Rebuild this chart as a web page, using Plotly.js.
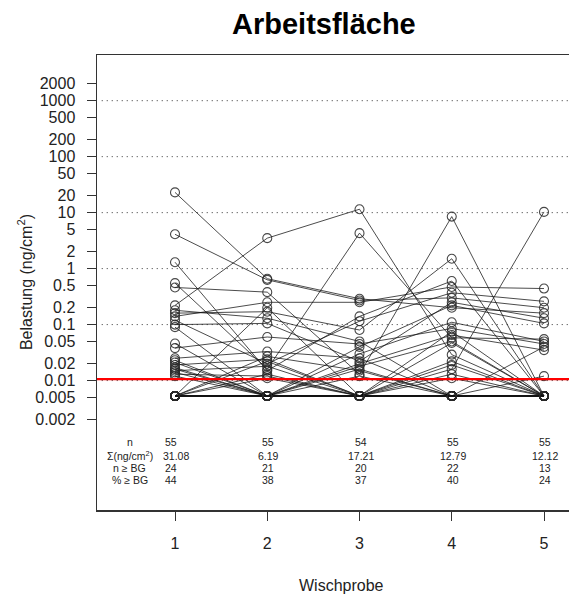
<!DOCTYPE html>
<html>
<head>
<meta charset="utf-8">
<script src="https://cdn.plot.ly/plotly-3.0.1.min.js"></script>
<style>html,body{margin:0;padding:0;background:#fff;overflow:hidden}#chart{width:569px;height:596px}</style>
</head>
<body>
<div id="chart"></div>
<script>
// Non-detect values plotted at half the detection limit (BG)
const ND = 0.0053;
const BG = 0.0106;
const samples = [1, 2, 3, 4, 5];

// Belastung (ng/cm²) per person (55) for each Wischprobe
const probe1 = [23, 4.1, 1.3, 0.22, 0.55, 0.46, 0.18, 0.16, 0.14, 0.12,
  0.10, 0.09, 0.046, 0.038, 0.025, 0.023, 0.021, 0.019, 0.017, 0.016,
  0.015, 0.014, 0.013, 0.012, ND, ND, ND, ND, ND, ND,
  ND, ND, ND, ND, ND, ND, ND, ND, ND, ND,
  ND, ND, ND, ND, ND, ND, ND, ND, ND, ND,
  ND, ND, ND, ND, ND];
const probe2 = [0.66, 0.63, 0.015, 3.5, 0.016, 0.38, 0.13, 0.17, 0.25, 0.02,
  0.105, ND, ND, 0.06, 0.033, ND, ND, 0.024, ND, ND,
  0.018, ND, 0.012, ND, 0.2, 0.027, 0.022, 0.011, 0.013, ND,
  ND, ND, ND, ND, ND, ND, ND, ND, ND, ND,
  ND, ND, ND, ND, ND, ND, ND, ND, ND, ND,
  ND, ND, ND, ND, ND];
const probe3 = [0.29, 0.27, 0.14, 11.5, 4.3, 0.013, 0.05, 0.08, 0.25, 0.115,
  0.022, 0.04, 0.03, 0.045, 0.025, 0.02, 0.018, ND, 0.016, ND,
  ND, 0.012, ND, ND, ND, 0.015, ND, ND, ND, ND,
  ND, ND, ND, ND, ND, ND, ND, ND, ND, ND,
  ND, ND, ND, ND, ND, ND, ND, ND, ND, ND,
  ND, ND, ND, ND, null];
const probe4 = [0.2, 0.3, 0.6, 0.029, 0.058, 8.5, ND, 1.5, 0.47, 0.37,
  0.25, 0.22, 0.11, 0.085, ND, 0.065, 0.05, 0.047, ND, 0.022,
  ND, ND, 0.013, ND, 0.075, ND, 0.016, 0.019, ND, 0.011,
  ND, ND, ND, ND, ND, ND, ND, ND, ND, ND,
  ND, ND, ND, ND, ND, ND, ND, ND, ND, ND,
  ND, ND, ND, ND, ND];
const probe5 = [0.16, 0.2, ND, ND, 0.055, ND, ND, ND, 0.44, 0.26,
  0.13, 0.105, 0.05, 0.045, 0.04, 0.035, ND, ND, 0.012, ND,
  ND, ND, ND, ND, ND, ND, 10.3, ND, ND, ND,
  ND, ND, ND, ND, ND, ND, ND, ND, ND, ND,
  ND, ND, ND, ND, ND, ND, ND, ND, ND, ND,
  ND, ND, ND, ND, ND];

// Summary table
const rowLabels = ["n", "\u03a3(ng/cm<sup>2</sup>)", "n \u2265 BG", "% \u2265 BG"];
const nVals = ["55", "55", "54", "55", "55"];
const sumVals = ["31.08", "6.19", "17.21", "12.79", "12.12"];
const nBGVals = ["24", "21", "20", "22", "13"];
const pctBGVals = ["44", "38", "37", "40", "24"];

// Axis tick labels
const yTicks = [2000, 1000, 500, 200, 100, 50, 20, 10, 5, 2, 1, 0.5, 0.2, 0.1, 0.05, 0.02, 0.01, 0.005, 0.002];
const yTickText = ["2000", "1000", "500", "200", "100", "50", "20", "10", "5", "2", "1", "0.5", "0.2", "0.1", "0.05", "0.02", "0.01", "0.005", "0.002"];
const gridVals = [1000, 100, 10, 1, 0.1, 0.01];

const probes = [probe1, probe2, probe3, probe4, probe5];
const xs = [], ys = [];
for (let i = 0; i < probe1.length; i++) {
  for (let j = 0; j < probes.length; j++) { xs.push(samples[j]); ys.push(probes[j][i]); }
  xs.push(null); ys.push(null);
}

const FONT = "Liberation Sans, Arial, Helvetica, sans-serif";
const data = [{
  type: "scatter", mode: "lines+markers", x: xs, y: ys,
  connectgaps: false, hoverinfo: "skip",
  line: {color: "rgba(20,20,20,0.85)", width: 0.9},
  marker: {symbol: "circle-open", size: 9, color: "rgba(40,40,40,0.85)", line: {width: 1.1}}
}];

const shapes = gridVals.map(v => ({
  type: "line", xref: "paper", x0: 0.01, x1: 1, yref: "y", y0: v, y1: v,
  line: {color: "#333", width: 1, dash: "1px,4px"}, layer: "below"
}));
shapes.push({type: "line", xref: "paper", x0: 0, x1: 1, yref: "y", y0: BG, y1: BG,
  line: {color: "#ff0000", width: 2.2}, layer: "above"});

const rowY = [0.150, 0.119, 0.093, 0.066];
const rowsVals = [nVals, sumVals, nBGVals, pctBGVals];
const annotations = [];
rowLabels.forEach((t, r) => {
  annotations.push({xref: "paper", yref: "paper", x: 0.0699, y: rowY[r], text: t, showarrow: false,
    xanchor: "center", yanchor: "middle", font: {family: FONT, size: 10.5, color: "#222"}});
  rowsVals[r].forEach((v, c) => {
    annotations.push({xref: "x", yref: "paper", x: samples[c], y: rowY[r], text: v, showarrow: false,
      xanchor: "center", yanchor: "middle", xshift: (c === 0 && r !== 1) ? -4 : 1,
      font: {family: FONT, size: 10.5, color: "#222"}});
  });
});
annotations.push({xref: "paper", yref: "paper", x: 0.481, y: 1.068, text: "<b>Arbeitsfl\u00e4che</b>", showarrow: false,
  xanchor: "center", yanchor: "middle", font: {family: FONT, size: 29, color: "#000"}});
annotations.push({xref: "paper", yref: "paper", x: 0.519, y: -0.167, text: "Wischprobe", showarrow: false,
  xanchor: "center", yanchor: "middle", font: {family: FONT, size: 16, color: "#222"}});
annotations.push({xref: "paper", yref: "paper", x: -0.1525, y: 0.501, text: "Belastung (ng/cm<sup>2</sup>)", showarrow: false,
  textangle: -90, xanchor: "center", yanchor: "middle", font: {family: FONT, size: 16, color: "#222"}});

const layout = {
  width: 569, height: 596,
  margin: {l: 97, r: 0, t: 55, b: 86},
  paper_bgcolor: "#fff", plot_bgcolor: "#fff",
  showlegend: false,
  xaxis: {range: [0.1545, 5.271], tickvals: samples, ticktext: ["1", "2", "3", "4", "5"],
    ticks: "outside", ticklen: 9, tickwidth: 1, tickcolor: "#333", ticklabelstandoff: 9,
    showgrid: false, zeroline: false, showline: true, mirror: true, linecolor: "#333", linewidth: 1.5,
    tickfont: {family: FONT, size: 16, color: "#222"}},
  yaxis: {type: "log", range: [-4.3125, 3.816], tickvals: yTicks, ticktext: yTickText,
    ticks: "outside", ticklen: 9, tickwidth: 1, tickcolor: "#333", ticklabelstandoff: 8,
    showgrid: false, zeroline: false, showline: true, mirror: false, linecolor: "#333", linewidth: 1.5,
    tickfont: {family: FONT, size: 16, color: "#222"}},
  shapes: shapes,
  annotations: annotations
};

Plotly.newPlot("chart", data, layout, {staticPlot: true, displayModeBar: false});
</script>
</body>
</html>
